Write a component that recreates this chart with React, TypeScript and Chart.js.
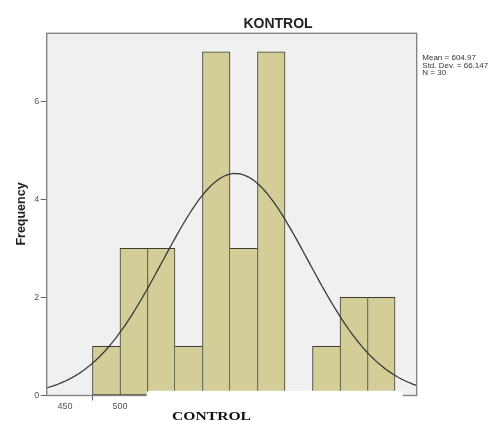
import React, { useEffect, useRef } from "react";
import { Chart, registerables } from "chart.js";

Chart.register(...registerables);

// ---- data ----
const BIN_CENTERS = [487.5, 512.5, 537.5, 562.5, 587.5, 612.5, 637.5, 662.5, 687.5, 712.5, 737.5];
const FREQUENCIES = [1, 3, 3, 1, 7, 3, 7, 0, 1, 2, 2];
const X_TICKS = [450, 500, 550, 600, 650, 700, 750];
const Y_TICKS = [0, 2, 4, 6];
const X_MIN = 433.4;
const X_MAX = 769.7;
const Y_MAX = 7.38;
const MEAN = 604.97;
const STD_DEV = 66.147;
const N = 30;
const BIN_WIDTH = 25;
const TITLE = "KONTROL";
const Y_TITLE = "Frequency";
const STATS_LINES = ["Mean = 604.97", "Std. Dev. = 66.147", "N = 30"];
const CAPTION = "CONTROL";

// fitted normal curve defined by the reported mean / std. dev.
const CURVE_STEP = 2;
const curvePoints: { x: number; y: number }[] = [];
for (let x = 430; x <= 772; x += CURVE_STEP) {
  const z = (x - MEAN) / STD_DEV;
  const y = (N * BIN_WIDTH) / (STD_DEV * Math.sqrt(2 * Math.PI)) * Math.exp(-0.5 * z * z);
  curvePoints.push({ x, y });
}

const SANS = "Arial, 'Liberation Sans', sans-serif";

const decorPlugin = {
  id: "decor",
  beforeDatasetsDraw(chart: any) {
    const { ctx, chartArea: a } = chart;
    ctx.save();
    ctx.fillStyle = "#f0f0f0";
    ctx.fillRect(a.left, a.top, a.right - a.left, a.bottom - a.top);
    ctx.restore();
  },
  afterDraw(chart: any) {
    const { ctx, chartArea: a } = chart;
    ctx.save();
    // frame
    ctx.strokeStyle = "#858585";
    ctx.lineWidth = 1.4;
    ctx.strokeRect(a.left, a.top, a.right - a.left, a.bottom - a.top);

    // title
    ctx.fillStyle = "#222";
    ctx.font = `bold 14px ${SANS}`;
    ctx.textAlign = "center";
    ctx.textBaseline = "alphabetic";
    ctx.fillText(TITLE, 278, 27.7);

    // y title
    ctx.save();
    ctx.translate(25, 214);
    ctx.rotate(-Math.PI / 2);
    ctx.font = `bold 12.5px ${SANS}`;
    ctx.textAlign = "center";
    ctx.fillText(Y_TITLE, 0, 0);
    ctx.restore();

    // stats legend
    ctx.font = `8px ${SANS}`;
    ctx.textAlign = "left";
    ctx.fillStyle = "#333";
    STATS_LINES.forEach((t, i) => ctx.fillText(t, 422.3, 60 + i * 7.6));

    // white caption box overlaying the x axis
    ctx.fillStyle = "#ffffff";
    const bx = 146.7, by = 390.7, bw = 256, bh = 40, r = 3;
    ctx.beginPath();
    ctx.moveTo(bx + r, by);
    ctx.lineTo(bx + bw - r, by);
    ctx.quadraticCurveTo(bx + bw, by, bx + bw, by + r);
    ctx.lineTo(bx + bw, by + bh);
    ctx.lineTo(bx, by + bh);
    ctx.lineTo(bx, by + r);
    ctx.quadraticCurveTo(bx, by, bx + r, by);
    ctx.closePath();
    ctx.fill();

    // caption
    ctx.save();
    ctx.fillStyle = "#111";
    ctx.font = `bold 13px 'Liberation Serif', 'Times New Roman', serif`;
    ctx.textAlign = "center";
    ctx.translate(211.5, 419.6);
    ctx.scale(1.2, 1);
    ctx.fillText(CAPTION, 0, 0);
    ctx.restore();

    ctx.restore();
  },
};

function freqAt(i: number): number {
  return i >= 0 && i < FREQUENCIES.length ? FREQUENCIES[i] : 0;
}

export default function App() {
  const ref = useRef<HTMLCanvasElement | null>(null);

  useEffect(() => {
    document.body.style.margin = "0";
    const canvas = ref.current;
    if (!canvas) return;
    const barData = BIN_CENTERS.map((x, i) => ({ x, y: FREQUENCIES[i] > 0 ? FREQUENCIES[i] : null }));
    const chart = new Chart(canvas, {
      type: "bar",
      data: {
        datasets: [
          {
            type: "line",
            data: curvePoints,
            borderColor: "#3a3a3a",
            borderWidth: 1.3,
            pointRadius: 0,
            fill: false,
            tension: 0,
            order: 0,
          } as any,
          {
            type: "bar",
            data: barData,
            backgroundColor: "#d3ce97",
            borderColor: "#3c3c32",
            borderWidth: (c: any) => {
              const i = c.dataIndex;
              const cur = freqAt(i);
              const left = freqAt(i - 1) <= cur ? 1 : 0;
              const right = freqAt(i + 1) < cur ? 1 : 0;
              return { left, top: 1, bottom: 1, right };
            },
            borderSkipped: false,
            barPercentage: 1,
            categoryPercentage: 1,
            clip: 0,
            order: 1,
          } as any,
        ],
      },
      options: {
        responsive: false,
        animation: false,
        events: [],
        layout: { padding: { left: 0, right: 85.3, top: 33.3, bottom: 0 } },
        plugins: { legend: { display: false }, tooltip: { enabled: false }, title: { display: false } },
        scales: {
          x: {
            type: "linear",
            min: X_MIN,
            max: X_MAX,
            offset: false,
            afterBuildTicks: (s: any) => {
              s.ticks = X_TICKS.map((v) => ({ value: v }));
            },
            afterFit: (s: any) => {
              s.height = 25.5;
            },
            grid: { drawOnChartArea: false, drawTicks: true, tickLength: 5, tickColor: "#666", color: "#666" },
            border: { display: false },
            ticks: { font: { size: 9, family: SANS }, color: "#555", padding: 1, maxRotation: 0, autoSkip: false },
          },
          y: {
            type: "linear",
            min: 0,
            max: Y_MAX,
            afterBuildTicks: (s: any) => {
              s.ticks = Y_TICKS.map((v) => ({ value: v }));
            },
            afterFit: (s: any) => {
              s.width = 46.7;
            },
            grid: { drawOnChartArea: false, drawTicks: true, tickLength: 6, tickColor: "#666", color: "#666" },
            border: { display: false },
            ticks: { font: { size: 9, family: SANS }, color: "#555", padding: 1.5 },
          },
        },
      },
      plugins: [decorPlugin],
    });
    return () => chart.destroy();
  }, []);

  return (
    <div style={{ position: "absolute", left: 0, top: 0, width: 502, height: 421, background: "#fff" }}>
      <canvas ref={ref} width={502} height={421} style={{ display: "block", width: 502, height: 421 }} />
    </div>
  );
}
